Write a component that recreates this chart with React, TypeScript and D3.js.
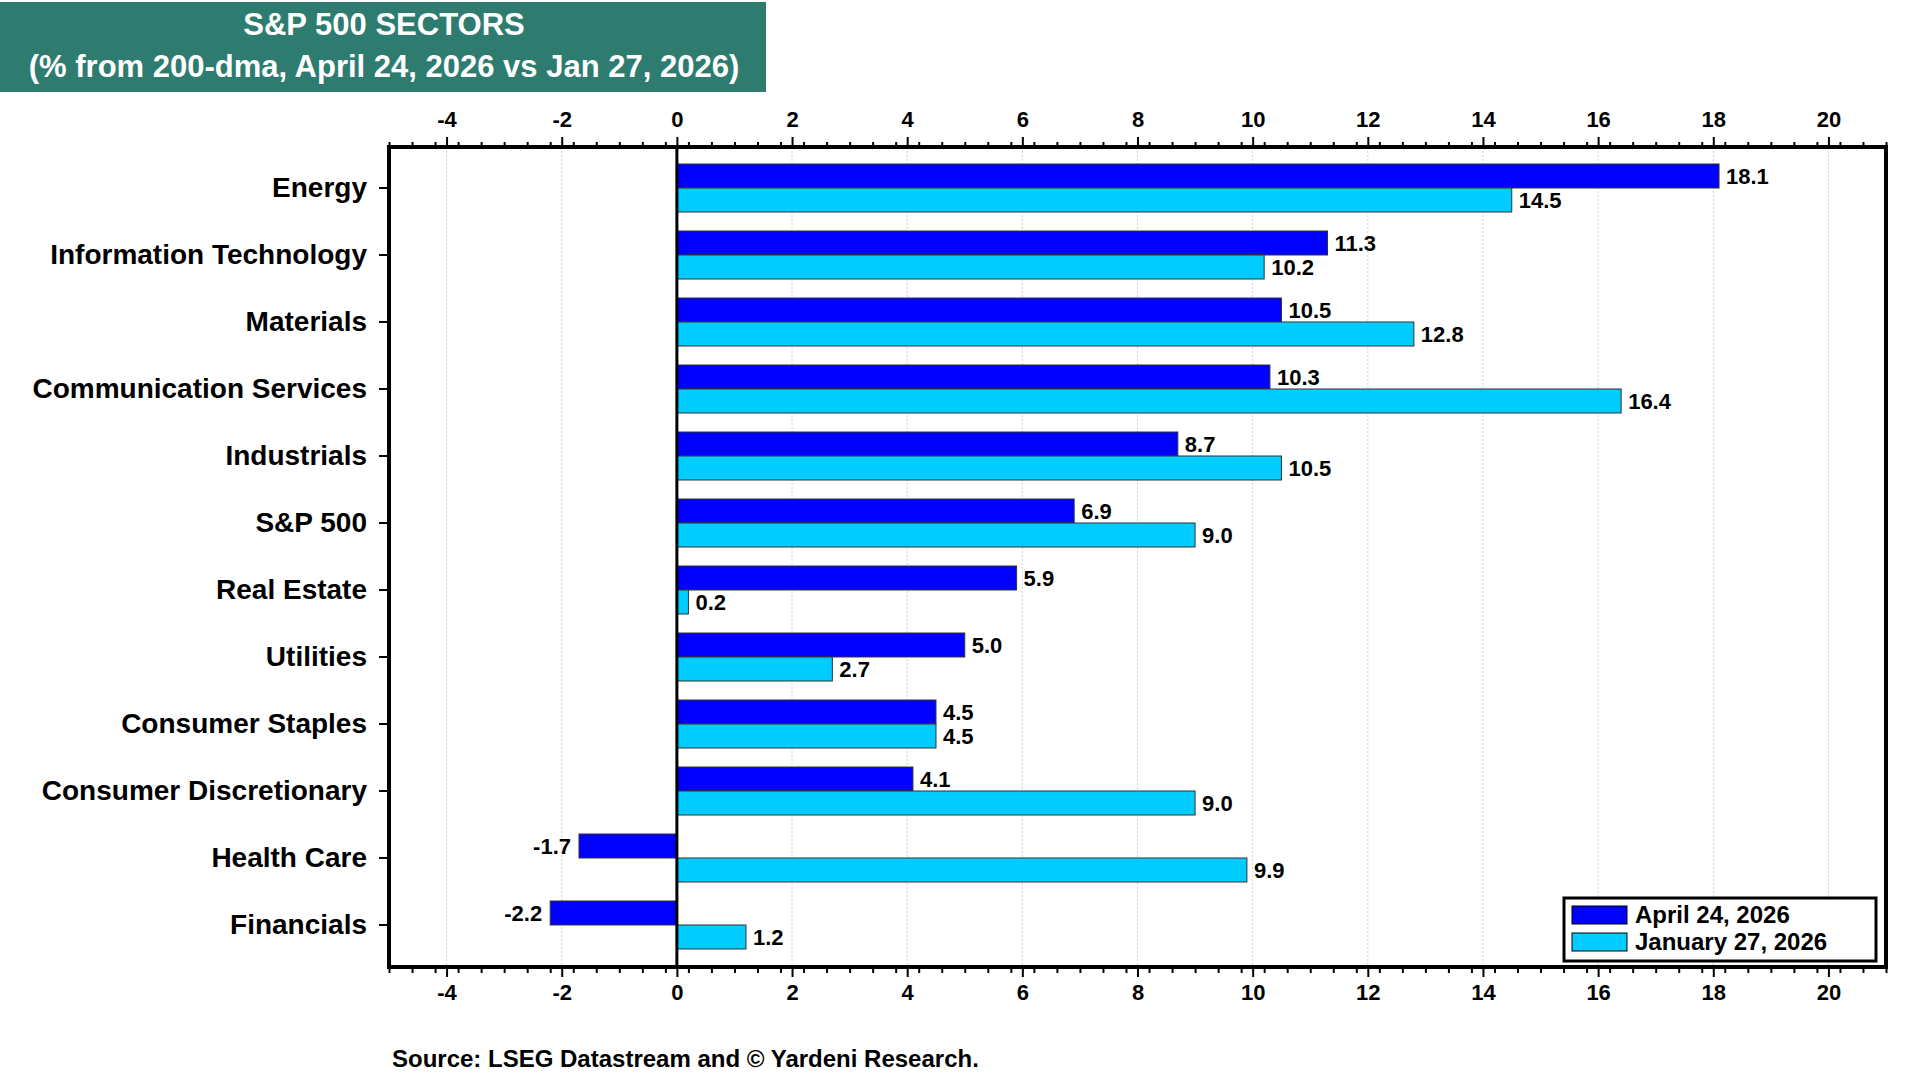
import { useEffect, useRef } from 'react';
import * as d3 from 'd3';

const sectors = [
  'Energy',
  'Information Technology',
  'Materials',
  'Communication Services',
  'Industrials',
  'S&P 500',
  'Real Estate',
  'Utilities',
  'Consumer Staples',
  'Consumer Discretionary',
  'Health Care',
  'Financials',
];
const aprilValues = [18.1, 11.3, 10.5, 10.3, 8.7, 6.9, 5.9, 5.0, 4.5, 4.1, -1.7, -2.2];
const januaryValues = [14.5, 10.2, 12.8, 16.4, 10.5, 9.0, 0.2, 2.7, 4.5, 9.0, 9.9, 1.2];
const seriesNames = ['April 24, 2026', 'January 27, 2026'];
const seriesColors = ['#0000ff', '#00ccff'];
const xTicks = [-4, -2, 0, 2, 4, 6, 8, 10, 12, 14, 16, 18, 20];

const FONT = 'Arial, "Liberation Sans", sans-serif';

export default function App() {
  const svgRef = useRef<SVGSVGElement>(null);

  useEffect(() => {
    if (!svgRef.current) return;
    const width = 1920;
    const height = 1080;
    const plot = { left: 389, right: 1886, top: 147, bottom: 967 };

    const svg = d3.select(svgRef.current);
    svg.selectAll('*').remove();
    svg.attr('width', width).attr('height', height).style('font-family', FONT);

    svg.append('rect').attr('width', width).attr('height', height).attr('fill', '#ffffff');

    // Title box
    svg
      .append('rect')
      .attr('x', 0)
      .attr('y', 2)
      .attr('width', 766)
      .attr('height', 90)
      .attr('fill', '#2e7c70');
    svg
      .append('text')
      .attr('x', 384)
      .attr('y', 35)
      .attr('text-anchor', 'middle')
      .attr('font-size', 31)
      .attr('font-weight', 700)
      .attr('fill', '#ffffff')
      .text('S&P 500 SECTORS');
    svg
      .append('text')
      .attr('x', 384)
      .attr('y', 77)
      .attr('text-anchor', 'middle')
      .attr('font-size', 31)
      .attr('font-weight', 700)
      .attr('fill', '#ffffff')
      .text('(% from 200-dma, April 24, 2026 vs Jan 27, 2026)');

    const x = d3.scaleLinear().domain([-5, 21]).range([plot.left, plot.right]);
    const y = d3.scaleBand<string>().domain(sectors).range([154.5, 958.5]).padding(0);
    const pairH = 48;
    const offset = (y.step() - pairH) / 2;
    const sub = d3.scaleBand<number>().domain([0, 1]).range([0, pairH]).padding(0);

    // Grid lines
    svg
      .append('g')
      .selectAll('line')
      .data(xTicks)
      .join('line')
      .attr('x1', (d) => x(d))
      .attr('x2', (d) => x(d))
      .attr('y1', plot.top)
      .attr('y2', plot.bottom)
      .attr('stroke', '#d0d0d0')
      .attr('stroke-width', 1)
      .attr('stroke-dasharray', '2,2');

    // Bars
    const series = [aprilValues, januaryValues];
    series.forEach((vals, s) => {
      const g = svg.append('g');
      g.selectAll('rect')
        .data(vals)
        .join('rect')
        .attr('x', (d) => x(Math.min(0, d)))
        .attr('y', (_, i) => (y(sectors[i]) ?? 0) + offset + (sub(s) ?? 0))
        .attr('width', (d) => Math.abs(x(d) - x(0)))
        .attr('height', sub.bandwidth())
        .attr('fill', seriesColors[s])
        .attr('stroke', '#333333')
        .attr('stroke-width', 1);

      g.selectAll('text')
        .data(vals)
        .join('text')
        .attr('x', (d) => (d < 0 ? x(d) - 8 : x(d) + 7))
        .attr('y', (_, i) => (y(sectors[i]) ?? 0) + offset + (sub(s) ?? 0) + sub.bandwidth() / 2)
        .attr('dy', '0.36em')
        .attr('text-anchor', (d) => (d < 0 ? 'end' : 'start'))
        .attr('font-size', 22)
        .attr('font-weight', 700)
        .attr('fill', '#000')
        .text((d) => d.toFixed(1));
    });

    // Zero line
    svg
      .append('line')
      .attr('x1', x(0))
      .attr('x2', x(0))
      .attr('y1', plot.top)
      .attr('y2', plot.bottom)
      .attr('stroke', '#000')
      .attr('stroke-width', 3);

    // Axes (top and bottom), with minor ticks
    const minor = d3.range(-5, 21.001, 0.4).map((v) => Math.round(v * 10) / 10);
    const axisTop = d3.axisTop(x).tickValues(minor).tickSize(5).tickFormat(() => '');
    const axisBottom = d3.axisBottom(x).tickValues(minor).tickSize(6).tickFormat(() => '');
    svg.append('g').attr('transform', `translate(0,${plot.top})`).call(axisTop);
    svg.append('g').attr('transform', `translate(0,${plot.bottom})`).call(axisBottom);
    const fmt = (d: d3.NumberValue) => String(d);
    const majorTop = d3.axisTop(x).tickValues(xTicks).tickSize(10).tickPadding(10).tickFormat(fmt);
    const majorBottom = d3
      .axisBottom(x)
      .tickValues(xTicks)
      .tickSize(10)
      .tickPadding(7)
      .tickFormat(fmt);
    const gt = svg.append('g').attr('transform', `translate(0,${plot.top})`).call(majorTop);
    const gb = svg.append('g').attr('transform', `translate(0,${plot.bottom})`).call(majorBottom);
    [gt, gb].forEach((g) => {
      g.select('.domain').remove();
      g.selectAll('text')
        .attr('font-size', 22)
        .attr('font-weight', 700)
        .attr('font-family', FONT)
        .attr('fill', '#000');
    });
    svg.selectAll('.tick line').attr('stroke', '#000').attr('stroke-width', 2);

    // Category labels and ticks
    const yAxis = d3.axisLeft(y).tickSize(10).tickPadding(12);
    const gy = svg.append('g').attr('transform', `translate(${plot.left},0)`).call(yAxis);
    gy.select('.domain').remove();
    gy.selectAll('line').attr('stroke', '#000').attr('stroke-width', 2);
    gy.selectAll('text')
      .attr('font-size', 28)
      .attr('font-weight', 700)
      .attr('font-family', FONT)
      .attr('fill', '#000');

    // Plot border
    svg
      .append('rect')
      .attr('x', plot.left)
      .attr('y', plot.top)
      .attr('width', plot.right - plot.left)
      .attr('height', plot.bottom - plot.top)
      .attr('fill', 'none')
      .attr('stroke', '#000')
      .attr('stroke-width', 4);

    // Legend
    const lg = svg.append('g').attr('transform', 'translate(1564,898)');
    lg.append('rect')
      .attr('width', 312)
      .attr('height', 63)
      .attr('fill', '#fff')
      .attr('stroke', '#000')
      .attr('stroke-width', 3);
    seriesNames.forEach((name, i) => {
      lg.append('rect')
        .attr('x', 8)
        .attr('y', 8 + i * 27)
        .attr('width', 55)
        .attr('height', 18)
        .attr('fill', seriesColors[i])
        .attr('stroke', '#000')
        .attr('stroke-width', 1);
      lg.append('text')
        .attr('x', 71)
        .attr('y', 25 + i * 27)
        .attr('font-size', 24)
        .attr('font-weight', 700)
        .attr('fill', '#000')
        .text(name);
    });

    // Source
    svg
      .append('text')
      .attr('x', 392)
      .attr('y', 1067)
      .attr('font-size', 24)
      .attr('font-weight', 700)
      .attr('fill', '#000')
      .text('Source: LSEG Datastream and © Yardeni Research.');
  }, []);

  return (
    <div style={{ position: 'absolute', left: 0, top: 0 }}>
      <svg ref={svgRef} style={{ display: 'block' }} />
    </div>
  );
}
